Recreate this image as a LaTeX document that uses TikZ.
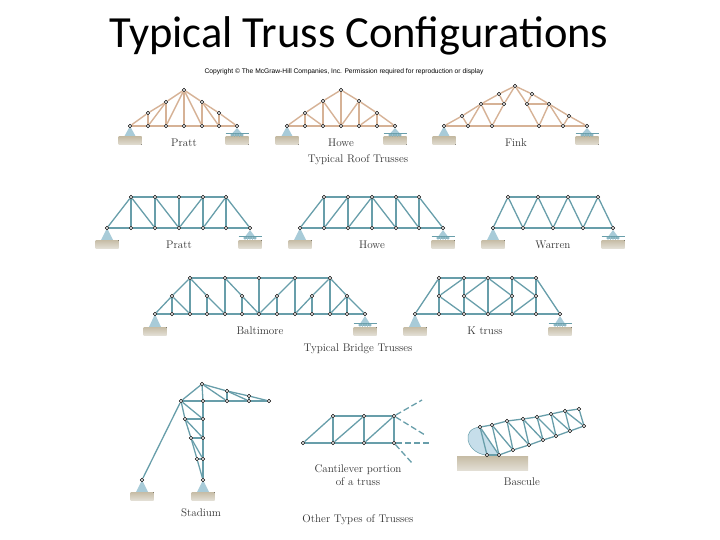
\documentclass[tikz,border=0pt]{standalone}
\usepackage{fontspec}
\newfontfamily\titlefont{Carlito}
\newfontfamily\notefont{Liberation Sans}
\usetikzlibrary{calc}

\definecolor{roofcol}{RGB}{214,178,150}
\definecolor{bridgecol}{RGB}{104,158,170}
\definecolor{supcol}{RGB}{168,203,216}
\definecolor{lobecol}{RGB}{198,222,234}
\definecolor{grounda}{RGB}{198,188,165}
\definecolor{groundb}{RGB}{226,222,212}

\tikzset{
  pin/.style={circle,draw=black,fill=white,line width=0.5pt,inner sep=0pt,minimum size=3.6pt},
  roofbar/.style={draw=roofcol,line width=1.4pt},
  roofchord/.style={draw=roofcol,line width=2pt},
  bar/.style={draw=bridgecol,line width=1.3pt},
  chord/.style={draw=bridgecol,line width=1.9pt},
  ground/.style={top color=grounda,bottom color=groundb,draw=none},
  caption/.style={font=\fontsize{11.1}{13.5}\selectfont,text=black!80,align=center,inner sep=0pt}
}

% support with ground block, x and y of the joint
\newcommand{\hinge}[3][137]{
  \fill[supcol] (#2,#3) -- (#2-6,#1) -- (#2+6,#1) -- cycle;
  \fill[ground] (#2-11.5,#1) rectangle (#2+11.5,#1+8);
}
\newcommand{\roller}[3][137]{
  \fill[supcol] (#2,#3+2) -- (#2-4.5,#1-4) -- (#2+4.5,#1-4) -- cycle;
  \fill[ground] (#2-11.5,#1) rectangle (#2+11.5,#1+8);
  \draw[bridgecol,line width=0.5pt] (#2-11.5,#1-4) -- (#2+11.5,#1-4);
  \foreach \r in {-5,-2.5,0,2.5,5}
    \draw[bridgecol,fill=supcol,line width=0.4pt] (#2+\r,#1-2) circle (1.4);
}

\begin{document}
\begin{tikzpicture}[x=1pt,y=-1pt]
  \useasboundingbox (0,0) rectangle (720,540);

  \node[inner sep=0pt] (title) at (359,36) {\titlefont\fontsize{44.5}{48}\selectfont Typical Truss Configurations};
  \node[inner sep=0pt] (copyright) at (344,71.5) {\notefont\fontsize{6.7}{8}\selectfont Copyright \textcopyright{} The McGraw-Hill Companies, Inc. Permission required for reproduction or display};

  % supports
  \hinge{130}{126} \roller{237}{126}
  \hinge{287}{126} \roller{395}{126}
  \hinge{444}{126} \roller{587}{126}
  \hinge[240]{107}{228} \roller[240]{250}{228}
  \hinge[240]{300}{228} \roller[240]{443}{228}
  \hinge[240]{493}{228} \roller[240]{613}{228}
  \hinge[327]{155}{314} \roller[327]{365}{314}
  \hinge[327]{415}{314} \roller[327]{560}{314}
  \hinge[492]{142}{480} \hinge[492]{203}{480}

  % roof trusses
  \foreach \n/\x/\y in {pa/130/126,pb/148/126,pc/166/126,pd/184/126,pe/202/126,pf/219/126,pg/237/126,
                        ph/148/113,pi/166/102,pj/184/90,pk/202/102,pl/219/113,
                        ha/287/126,hb/305/126,hc/323/126,hd/341/126,he/359/126,hf/377/126,hg/395/126,
                        hh/305/113,hi/323/101,hj/341/90,hk/359/101,hl/377/113,
                        fa/444/126,fb/468/126,fc/492/126,fd/539/126,fe/563/126,ff/587/126,
                        fg/462/116,fh/481/104,fi/499/94,fj/515/86,fk/532/94,fl/549/104,fm/569/116,
                        fn/504/104,fo/527/104}
    \node[pin] (\n) at (\x,\y) {};

  \foreach \a/\b in {pa/pb,pb/pc,pc/pd,pd/pe,pe/pf,pf/pg,ha/hb,hb/hc,hc/hd,hd/he,he/hf,hf/hg,fa/fb,fb/fc,fc/fd,fd/fe,fe/ff}
    \draw[roofchord] (\a) -- (\b);
  \foreach \a/\b in {pa/ph,ph/pi,pi/pj,pj/pk,pk/pl,pl/pg,pb/ph,pc/pi,pd/pj,pe/pk,pf/pl,pb/pi,pc/pj,pj/pe,pk/pf,
                     ha/hh,hh/hi,hi/hj,hj/hk,hk/hl,hl/hg,hb/hh,hc/hi,hd/hj,he/hk,hf/hl,hh/hc,hi/hd,hk/hd,hl/he,
                     fa/fg,fg/fh,fh/fi,fi/fj,fj/fk,fk/fl,fl/fm,fm/ff,fg/fb,fh/fb,fh/fc,fh/fn,fi/fn,fn/fc,fn/fj,
                     fm/fe,fl/fe,fl/fd,fl/fo,fk/fo,fo/fd,fo/fj}
    \draw[roofbar] (\a) -- (\b);

  \node[caption] (cappr) at (184,142.5) {Pratt};
  \node[caption] (caphr) at (341,142.5) {Howe};
  \node[caption] (capfr) at (516,142.5) {Fink};
  \node[caption] (caproof) at (358,160) {Typical Roof Trusses};

  % bridge trusses
  \foreach \n/\x/\y in {qa/107/228,qb/131/228,qc/155/228,qd/179/228,qe/203/228,qf/226/228,qg/250/228,
                        qh/131/197,qi/155/197,qj/179/197,qk/203/197,ql/226/197,
                        oa/300/228,ob/324/228,oc/348/228,od/372/228,oe/396/228,of/419/228,og/443/228,
                        oh/324/197,oi/348/197,oj/372/197,ok/396/197,ol/419/197,
                        wa/493/228,wb/523/228,wc/553/228,wd/583/228,we/613/228,
                        wf/508/197,wg/538/197,wh/568/197,wi/598/197}
    \node[pin] (\n) at (\x,\y) {};

  \foreach \a/\b in {qh/qi,qi/qj,qj/qk,qk/ql,oh/oi,oi/oj,oj/ok,ok/ol}
    \draw[chord] (\a) -- (\b);
  \foreach \a/\b in {qa/qb,qb/qc,qc/qd,qd/qe,qe/qf,qf/qg,qa/qh,ql/qg,qb/qh,qc/qi,qd/qj,qe/qk,qf/ql,qh/qc,qi/qd,qk/qd,ql/qe,
                     oa/ob,ob/oc,oc/od,od/oe,oe/of,of/og,oa/oh,ol/og,ob/oh,oc/oi,od/oj,oe/ok,of/ol,ob/oi,oc/oj,oj/oe,ok/of,
                     wa/wb,wb/wc,wc/wd,wd/we,wf/wg,wg/wh,wh/wi,wa/wf,wf/wb,wb/wg,wg/wc,wc/wh,wh/wd,wd/wi,wi/we}
    \draw[bar] (\a) -- (\b);

  \node[caption] (capqb) at (179,245) {Pratt};
  \node[caption] (capob) at (372,245) {Howe};
  \node[caption] (capwb) at (553,245) {Warren};

  % baltimore and k truss
  \foreach \n/\x/\y in {ba/155/314,bb/172/314,bc/190/314,bd/207/314,be/225/314,bf/242/314,bg/259/314,
                        bh/277/314,bi/295/314,bj/312/314,bk/330/314,bl/347/314,bm/365/314,
                        bn/190/278,bo/225/278,bp/259/278,bq/295/278,br/330/278,
                        bs/172/296,bt/207/296,bu/242/296,bv/277/296,bw/312/296,bx/347/296,
                        ka/415/314,kb/439/314,kc/464/314,kd/488/314,ke/512/314,kf/536/314,kg/560/314,
                        kh/439/278,ki/464/278,kj/488/278,kk/512/278,kl/536/278,
                        km/439/296,kn/464/296,ko/512/296,kp/536/296}
    \node[pin] (\n) at (\x,\y) {};

  \foreach \a/\b in {bn/bo,bo/bp,bp/bq,bq/br,kh/ki,ki/kj,kj/kk,kk/kl,bn/bc,bq/bi,br/bk,kj/kd}
    \draw[chord] (\a) -- (\b);
  \foreach \a/\b in {ba/bb,bb/bc,bc/bd,bd/be,be/bf,bf/bg,bg/bh,bh/bi,bi/bj,bj/bk,bk/bl,bl/bm,
                     ba/bs,bs/bn,bs/bb,bs/bc,bn/bt,bt/be,bt/bd,bo/be,bo/bu,bu/bg,bu/bf,bp/bg,
                     bg/bv,bv/bq,bv/bh,bi/bw,bw/br,bw/bj,br/bx,bx/bm,bx/bl,bk/bx,
                     ka/kb,kb/kc,kc/kd,kd/ke,ke/kf,kf/kg,ka/kh,kl/kg,
                     kh/km,km/kb,ki/kn,kn/kc,kk/ko,ko/ke,kl/kp,kp/kf,
                     km/ki,km/kc,kn/kj,kn/kd,ko/kj,ko/kd,kp/kk,kp/ke}
    \draw[bar] (\a) -- (\b);

  \node[caption] (capbal) at (260,331) {Baltimore};
  \node[caption] (capkt) at (485,331) {K truss};
  \node[caption] (capbridge) at (358,349) {Typical Bridge Trusses};

  % stadium
  \foreach \n/\x/\y in {sa/202/384,sb/181/401,sc/203/401,sd/227/391,se/227/401,sf/249/396,sg/249/401,sh/269/401,
                        si/203/419,sj/185/419,sk/203/438,sl/191/438,sm/203/459,sn/197/459,so/203/480,sp/142/480}
    \node[pin] (\n) at (\x,\y) {};

  \foreach \a/\b in {sb/sc,sc/se,se/sg,sg/sh}
    \draw[chord] (\a) -- (\b);
  \foreach \a/\b in {sp/sb,sb/sa,sa/sc,sa/sd,sd/sf,sf/sh,sa/se,sd/se,sd/sg,sf/sg,
                     sc/si,si/sk,sk/sm,sm/so,sb/si,sb/sj,sj/si,sj/sl,sl/sk,sj/sk,sl/sn,sn/sm,sl/sm,sn/so}
    \draw[bar] (\a) -- (\b);

  \node[caption] (capsta) at (201,513) {Stadium};

  % cantilever
  \foreach \n/\x/\y in {ca/303/443,cb/333/443,cc/364/443,cd/394/443,ce/333/416,cf/364/416,cg/394/416}
    \node[pin] (\n) at (\x,\y) {};
  \coordinate (cw) at (422,400);
  \coordinate (cx) at (425,435);
  \coordinate (cy) at (430,443);
  \coordinate (cz) at (412,463);

  \foreach \a/\b in {ca/cb,cb/cc,cc/cd,ce/cf,cf/cg,ca/ce,cb/ce,cc/cf,cd/cg,cb/cf,cc/cg}
    \draw[bar] (\a) -- (\b);
  \foreach \a/\b in {cg/cw,cg/cx,cd/cy,cd/cz}
    \draw[bar,dashed,dash pattern=on 6pt off 3pt] (\a) -- (\b);

  \node[caption] (capcan) at (358,475) {Cantilever portion\\of a truss};
  \node[caption] (capother) at (358,520) {Other Types of Trusses};

  % bascule
  \fill[ground] (457,456) rectangle (528,470);
  \fill[lobecol] (480,427) .. controls (470,428) and (467,434) .. (468,440) .. controls (470,450) and (480,455) .. (487,455) -- (499,455) -- cycle;
  \draw[bridgecol,line width=0.5pt] (480,427) .. controls (470,428) and (467,434) .. (468,440) .. controls (470,450) and (480,455) .. (487,455);
  \foreach \n/\x/\y in {ta/480/427,tb/492/425,tc/507/421,td/523/419,te/537/417,tf/551/414,tg/565/411,th/579/409,
                        ua/487/455,ub/499/455,uc/513/450,ud/529/445,ue/543/440,uf/556/436,ug/570/431,uh/584/426}
    \node[pin] (\n) at (\x,\y) {};

  \foreach \a/\b in {ta/tb,tb/tc,tc/td,td/te,te/tf,tf/tg,tg/th,ua/ub,ub/uc,uc/ud,ud/ue,ue/uf,uf/ug,ug/uh,
                     ta/ua,ta/ub,tb/ub,tb/uc,tc/uc,tc/ud,td/ud,td/ue,te/ue,te/uf,tf/uf,tf/ug,tg/ug,tg/uh,th/uh}
    \draw[bar] (\a) -- (\b);

  \node[caption] (capbas) at (522,482) {Bascule};
\end{tikzpicture}
\end{document}
